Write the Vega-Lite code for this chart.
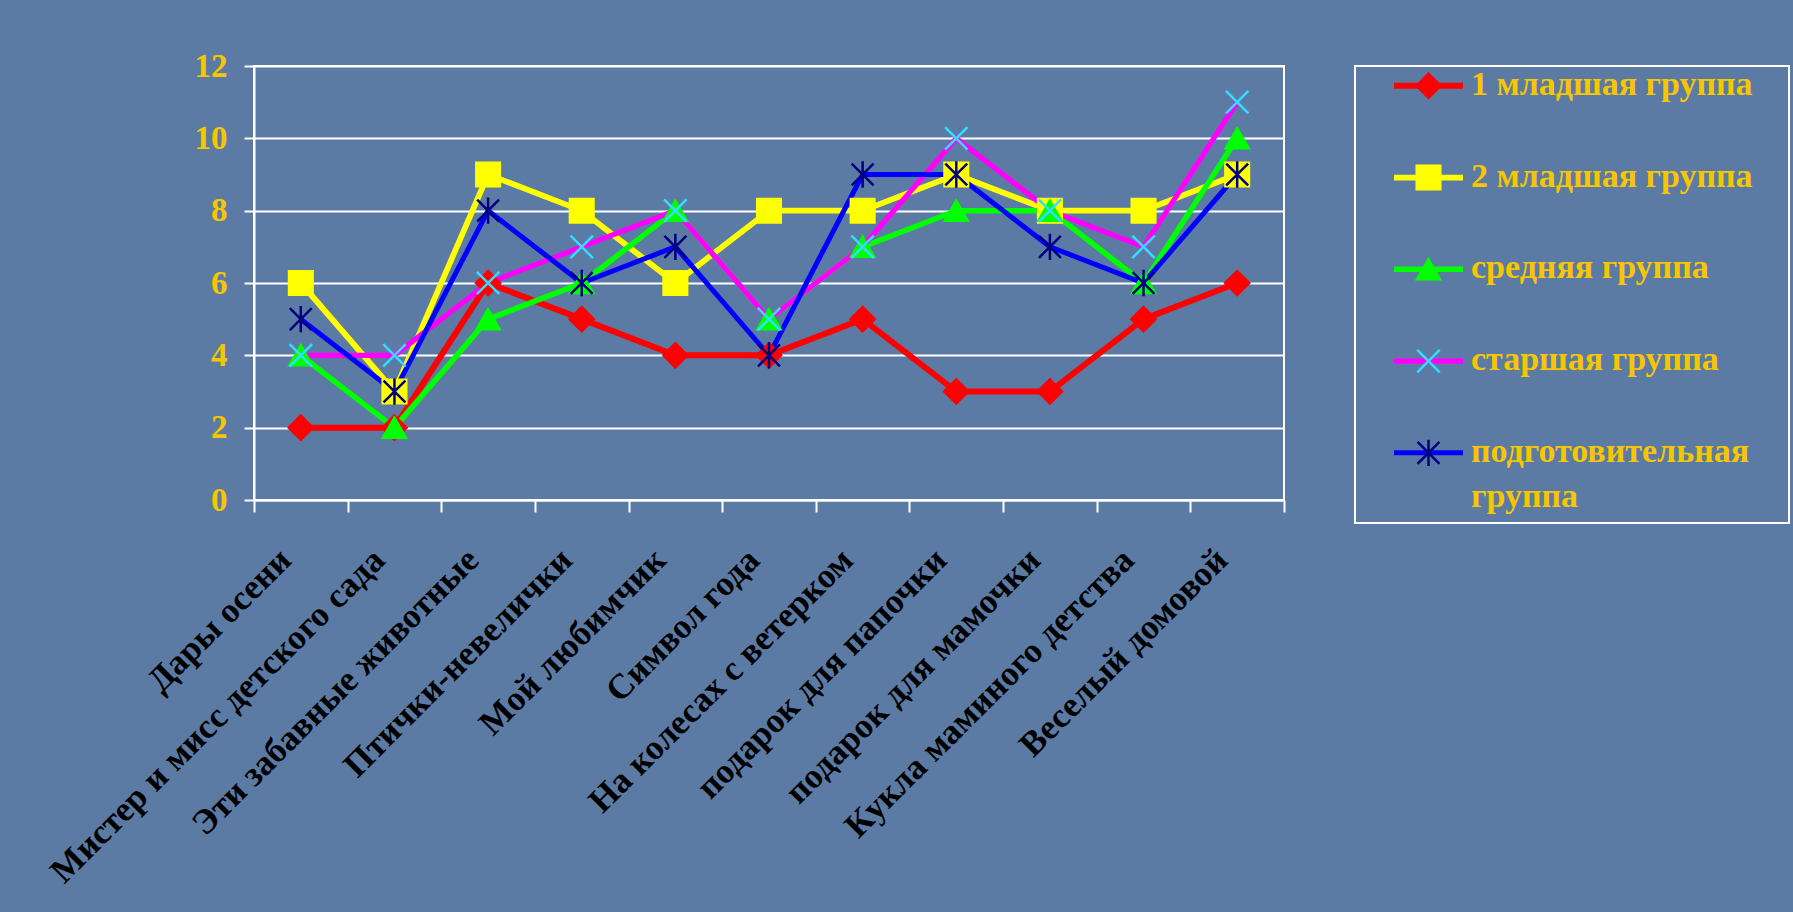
{
  "$schema": "https://vega.github.io/schema/vega-lite/v6.json",
  "background": "#5b7ba5",
  "padding": {"left": 43, "top": 49, "right": 5, "bottom": 120},
  "autosize": {"type": "pad"},
  "spacing": 71,
  "bounds": "flush",
  "config": {
    "font": "Liberation Serif",
    "view": {"stroke": "#ffffff", "strokeWidth": 2},
    "axis": {
      "domainColor": "#ffffff", "domainWidth": 2,
      "tickColor": "#ffffff", "tickWidth": 2,
      "gridColor": "#ffffff", "gridWidth": 2, "gridOpacity": 1,
      "labelFont": "Liberation Serif", "labelFontWeight": "bold"
    }
  },
  "datasets": {
    "scores": [
      {"task": "Дары осени", "group": "1 младшая группа", "value": 2},
      {"task": "Мистер и мисс детского сада", "group": "1 младшая группа", "value": 2},
      {"task": "Эти забавные животные", "group": "1 младшая группа", "value": 6},
      {"task": "Птички-невелички", "group": "1 младшая группа", "value": 5},
      {"task": "Мой любимчик", "group": "1 младшая группа", "value": 4},
      {"task": "Символ года", "group": "1 младшая группа", "value": 4},
      {"task": "На колесах с ветерком", "group": "1 младшая группа", "value": 5},
      {"task": "подарок для папочки", "group": "1 младшая группа", "value": 3},
      {"task": "подарок для мамочки", "group": "1 младшая группа", "value": 3},
      {"task": "Кукла маминого детства", "group": "1 младшая группа", "value": 5},
      {"task": "Веселый домовой", "group": "1 младшая группа", "value": 6},
      {"task": "Дары осени", "group": "2 младшая группа", "value": 6},
      {"task": "Мистер и мисс детского сада", "group": "2 младшая группа", "value": 3},
      {"task": "Эти забавные животные", "group": "2 младшая группа", "value": 9},
      {"task": "Птички-невелички", "group": "2 младшая группа", "value": 8},
      {"task": "Мой любимчик", "group": "2 младшая группа", "value": 6},
      {"task": "Символ года", "group": "2 младшая группа", "value": 8},
      {"task": "На колесах с ветерком", "group": "2 младшая группа", "value": 8},
      {"task": "подарок для папочки", "group": "2 младшая группа", "value": 9},
      {"task": "подарок для мамочки", "group": "2 младшая группа", "value": 8},
      {"task": "Кукла маминого детства", "group": "2 младшая группа", "value": 8},
      {"task": "Веселый домовой", "group": "2 младшая группа", "value": 9},
      {"task": "Дары осени", "group": "средняя группа", "value": 4},
      {"task": "Мистер и мисс детского сада", "group": "средняя группа", "value": 2},
      {"task": "Эти забавные животные", "group": "средняя группа", "value": 5},
      {"task": "Птички-невелички", "group": "средняя группа", "value": 6},
      {"task": "Мой любимчик", "group": "средняя группа", "value": 8},
      {"task": "Символ года", "group": "средняя группа", "value": 5},
      {"task": "На колесах с ветерком", "group": "средняя группа", "value": 7},
      {"task": "подарок для папочки", "group": "средняя группа", "value": 8},
      {"task": "подарок для мамочки", "group": "средняя группа", "value": 8},
      {"task": "Кукла маминого детства", "group": "средняя группа", "value": 6},
      {"task": "Веселый домовой", "group": "средняя группа", "value": 10},
      {"task": "Дары осени", "group": "старшая группа", "value": 4},
      {"task": "Мистер и мисс детского сада", "group": "старшая группа", "value": 4},
      {"task": "Эти забавные животные", "group": "старшая группа", "value": 6},
      {"task": "Птички-невелички", "group": "старшая группа", "value": 7},
      {"task": "Мой любимчик", "group": "старшая группа", "value": 8},
      {"task": "Символ года", "group": "старшая группа", "value": 5},
      {"task": "На колесах с ветерком", "group": "старшая группа", "value": 7},
      {"task": "подарок для папочки", "group": "старшая группа", "value": 10},
      {"task": "подарок для мамочки", "group": "старшая группа", "value": 8},
      {"task": "Кукла маминого детства", "group": "старшая группа", "value": 7},
      {"task": "Веселый домовой", "group": "старшая группа", "value": 11},
      {"task": "Дары осени", "group": "подготовительная группа", "value": 5},
      {"task": "Мистер и мисс детского сада", "group": "подготовительная группа", "value": 3},
      {"task": "Эти забавные животные", "group": "подготовительная группа", "value": 8},
      {"task": "Птички-невелички", "group": "подготовительная группа", "value": 6},
      {"task": "Мой любимчик", "group": "подготовительная группа", "value": 7},
      {"task": "Символ года", "group": "подготовительная группа", "value": 4},
      {"task": "На колесах с ветерком", "group": "подготовительная группа", "value": 9},
      {"task": "подарок для папочки", "group": "подготовительная группа", "value": 9},
      {"task": "подарок для мамочки", "group": "подготовительная группа", "value": 7},
      {"task": "Кукла маминого детства", "group": "подготовительная группа", "value": 6},
      {"task": "Веселый домовой", "group": "подготовительная группа", "value": 9}
    ]
  },
  "hconcat": [
    {
      "width": 1030,
      "height": 434,
      "data": {"name": "scores"},
      "encoding": {
        "x": {
          "field": "task", "type": "nominal", "sort": null,
          "scale": {"type": "band", "paddingInner": 0, "paddingOuter": 0},
          "axis": {
            "title": null, "labelAngle": -45, "labelAlign": "right", "labelBaseline": "middle",
            "labelFontSize": 35, "labelColor": "#000000",
            "labelPadding": 42, "labelOffset": -16, "labelLimit": 0, "labelOverlap": false,
            "tickBand": "extent", "tickSize": 12, "grid": false
          }
        },
        "y": {
          "field": "value", "type": "quantitative",
          "scale": {"domain": [0, 12], "nice": false},
          "axis": {
            "title": null, "values": [0, 2, 4, 6, 8, 10, 12], "tickSize": 10,
            "labelFontSize": 33, "labelColor": "#f7c600", "labelPadding": 17, "grid": true
          }
        }
      },
      "layer": [
        {
          "mark": {"type": "line", "strokeJoin": "miter", "strokeCap": "butt"},
          "encoding": {
            "color": {
              "field": "group", "type": "nominal",
              "scale": {
                "domain": ["1 младшая группа", "2 младшая группа", "средняя группа", "старшая группа", "подготовительная группа"],
                "range": ["#ff0000", "#ffff00", "#00ff00", "#ff00ff", "#0000ff"]
              },
              "legend": null
            },
            "strokeWidth": {
              "field": "group", "type": "nominal",
              "scale": {
                "domain": ["1 младшая группа", "2 младшая группа", "средняя группа", "старшая группа", "подготовительная группа"],
                "range": [6, 5, 5, 5, 6]
              },
              "legend": null
            }
          }
        },
        {
          "mark": {"type": "point", "opacity": 1, "strokeWidth": 2.5},
          "encoding": {
            "shape": {
              "field": "group", "type": "nominal",
              "scale": {
                "domain": ["1 младшая группа", "2 младшая группа", "средняя группа", "старшая группа", "подготовительная группа"],
                "range": ["diamond", "square", "triangle-up", "M-1,-1L1,1M1,-1L-1,1", "M-1,-1L1,1M1,-1L-1,1M0,-1.2L0,1.2"]
              },
              "legend": null
            },
            "fill": {
              "field": "group", "type": "nominal",
              "scale": {
                "domain": ["1 младшая группа", "2 младшая группа", "средняя группа", "старшая группа", "подготовительная группа"],
                "range": ["#ff0000", "#ffff00", "#00ff00", "transparent", "transparent"]
              },
              "legend": null
            },
            "stroke": {
              "field": "group", "type": "nominal",
              "scale": {
                "domain": ["1 младшая группа", "2 младшая группа", "средняя группа", "старшая группа", "подготовительная группа"],
                "range": ["#ff0000", "#ffff00", "#00ff00", "#33ddff", "#000080"]
              },
              "legend": null
            },
            "size": {
              "field": "group", "type": "nominal",
              "scale": {
                "domain": ["1 младшая группа", "2 младшая группа", "средняя группа", "старшая группа", "подготовительная группа"],
                "range": [580, 480, 560, 520, 620]
              },
              "legend": null
            }
          }
        }
      ]
    },
    {
      "width": 434,
      "height": 457,
      "data": {
        "values": [
          {"group": "1 младшая группа", "label": "1 младшая группа"},
          {"group": "2 младшая группа", "label": "2 младшая группа"},
          {"group": "средняя группа", "label": "средняя группа"},
          {"group": "старшая группа", "label": "старшая группа"},
          {"group": "подготовительная группа", "label": "подготовительная\nгруппа"}
        ]
      },
      "encoding": {
        "y": {
          "field": "group", "type": "nominal", "sort": null,
          "scale": {"type": "point", "padding": 0.49, "align": 0.22},
          "axis": null
        }
      },
      "layer": [
        {
          "mark": {"type": "rule", "strokeCap": "butt"},
          "encoding": {
            "x": {"datum": 39, "type": "quantitative", "scale": {"domain": [0, 434], "nice": false, "zero": false}, "axis": null},
            "x2": {"datum": 108},
            "color": {
              "field": "group", "type": "nominal",
              "scale": {
                "domain": ["1 младшая группа", "2 младшая группа", "средняя группа", "старшая группа", "подготовительная группа"],
                "range": ["#ff0000", "#ffff00", "#00ff00", "#ff00ff", "#0000ff"]
              },
              "legend": null
            },
            "strokeWidth": {
              "field": "group", "type": "nominal",
              "scale": {
                "domain": ["1 младшая группа", "2 младшая группа", "средняя группа", "старшая группа", "подготовительная группа"],
                "range": [6, 5, 5, 5, 6]
              },
              "legend": null
            }
          }
        },
        {
          "mark": {"type": "point", "opacity": 1, "strokeWidth": 2.5},
          "encoding": {
            "x": {"datum": 73.5, "type": "quantitative"},
            "shape": {
              "field": "group", "type": "nominal",
              "scale": {
                "domain": ["1 младшая группа", "2 младшая группа", "средняя группа", "старшая группа", "подготовительная группа"],
                "range": ["diamond", "square", "triangle-up", "M-1,-1L1,1M1,-1L-1,1", "M-1,-1L1,1M1,-1L-1,1M0,-1.2L0,1.2"]
              },
              "legend": null
            },
            "fill": {
              "field": "group", "type": "nominal",
              "scale": {
                "domain": ["1 младшая группа", "2 младшая группа", "средняя группа", "старшая группа", "подготовительная группа"],
                "range": ["#ff0000", "#ffff00", "#00ff00", "transparent", "transparent"]
              },
              "legend": null
            },
            "stroke": {
              "field": "group", "type": "nominal",
              "scale": {
                "domain": ["1 младшая группа", "2 младшая группа", "средняя группа", "старшая группа", "подготовительная группа"],
                "range": ["#ff0000", "#ffff00", "#00ff00", "#33ddff", "#000080"]
              },
              "legend": null
            },
            "size": {
              "field": "group", "type": "nominal",
              "scale": {
                "domain": ["1 младшая группа", "2 младшая группа", "средняя группа", "старшая группа", "подготовительная группа"],
                "range": [400, 400, 420, 400, 460]
              },
              "legend": null
            }
          }
        },
        {
          "mark": {
            "type": "text", "align": "left", "baseline": "top", "dy": -18,
            "lineBreak": "\n", "lineHeight": 45,
            "font": "Liberation Serif", "fontSize": 34, "fontWeight": "bold", "color": "#f7c600"
          },
          "encoding": {
            "x": {"datum": 116, "type": "quantitative"},
            "text": {"field": "label"}
          }
        }
      ]
    }
  ]
}
